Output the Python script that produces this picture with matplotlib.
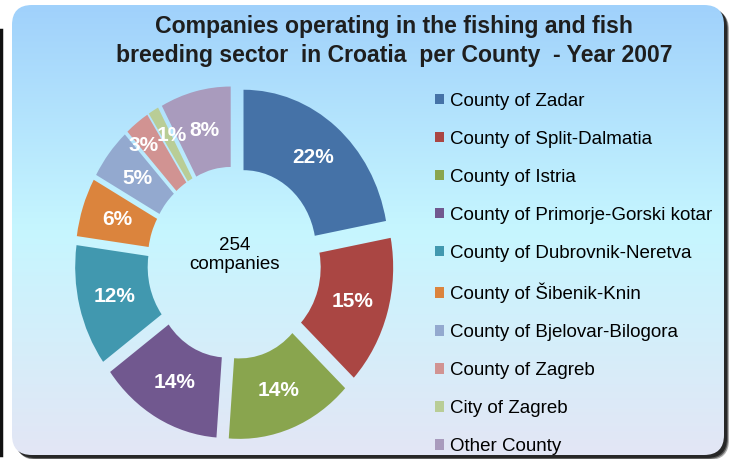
import matplotlib
matplotlib.use('Agg')
import matplotlib.pyplot as plt
import numpy as np
from matplotlib.patches import FancyBboxPatch
from matplotlib.colors import LinearSegmentedColormap

# Data: number of companies per county (254 in total)
counties = ['County of Zadar', 'County of Split-Dalmatia', 'County of Istria',
            'County of Primorje-Gorski kotar', 'County of Dubrovnik-Neretva',
            'County of Šibenik-Knin', 'County of Bjelovar-Bilogora',
            'County of Zagreb', 'City of Zagreb', 'Other County']
companies = [56, 38, 36, 35, 31, 15, 13, 7, 3, 20]
colors = ['#4572A7', '#AA4643', '#89A54E', '#71588F', '#4198AF',
          '#DB843D', '#93A9CF', '#D19392', '#B9CD96', '#A99BBD']

title = 'Companies operating in the fishing and fish\nbreeding sector  in Croatia  per County  - Year 2007'
font = ['Liberation Sans', 'DejaVu Sans']

W, H = 735, 459
fig = plt.figure(figsize=(W / 100, H / 100), dpi=100)

# Background panel with rounded corners, shadow and vertical gradient
bg = fig.add_axes([0, 0, 1, 1])
bg.axis('off')

for off, a in [(5, 0.35), (4, 0.55), (3, 0.8)]:
    sh = FancyBboxPatch((12 + off, 5 + off), 712, 450,
                        boxstyle='round,pad=0,rounding_size=20',
                        fc='#1a1a1a', ec='none', alpha=a, zorder=0)
    bg.add_patch(sh)

box = FancyBboxPatch((12, 5), 712, 450, boxstyle='round,pad=0,rounding_size=20',
                     fc='none', ec='none')
bg.add_patch(box)
cmap = LinearSegmentedColormap.from_list(
    'bgrad', [(0, '#a0d1fb'), (0.5, '#c6f6ff'), (1, '#e3e6f5')])
grad = np.linspace(0, 1, 256).reshape(-1, 1)
im = bg.imshow(grad, cmap=cmap, aspect='auto', extent=(12, 724, 455, 5),
               interpolation='bicubic', zorder=2)
im.set_clip_path(box)

# thin dark line at the left edge of the screenshot
bg.plot([1, 1], [30, 455], color='#111111', lw=2.5, zorder=3)
bg.set_xlim(0, W)
bg.set_ylim(H, 0)

# Title
fig.text(394 / W, 1 - 41 / H, title, ha='center', va='center', fontsize=16.6,
         fontweight='bold', color='#1e1e1e', family=font, linespacing=1.3)

# Donut chart
ax = fig.add_axes([53 / W, 11 / H, 362.5 / W, 370 / H])
wedges, texts, autotexts = ax.pie(
    companies, colors=colors, startangle=90, counterclock=False,
    explode=[0.1] * len(companies),
    wedgeprops=dict(width=0.5, edgecolor='none'),
    autopct='%1.0f%%', pctdistance=0.75,
    textprops=dict(color='white', fontweight='bold', fontsize=15, family=font))
ax.set_aspect('auto')
ax.set_xlim(-1.25, 1.25)
ax.set_ylim(-1.15, 1.15)

# the two thin slices share their labels side by side
autotexts[7].set_ha('right')
autotexts[7].set_va('bottom')
autotexts[8].set_va('bottom')

ax.text(0, 0.05, f'{sum(companies)}\ncompanies', ha='center', va='center',
        fontsize=13.5, color='black', family=font, linespacing=1.2)

# Legend
fig.legend(wedges, counties, loc='upper left', bbox_to_anchor=(435 / W, 1 - 92.5 / H),
           frameon=False, prop=dict(family=font, size=13.5),
           handlelength=0.5, handleheight=0.5, handletextpad=0.3,
           labelspacing=1.12, borderpad=0, borderaxespad=0)

fig.savefig('out.png', dpi=100)
